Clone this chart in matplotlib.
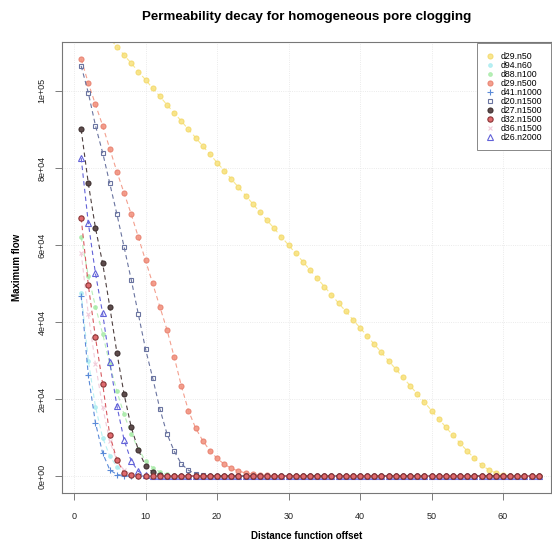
import matplotlib
matplotlib.use("Agg")
import matplotlib.pyplot as plt
import numpy as np

plt.rcParams['font.family'] = ['Liberation Sans', 'DejaVu Sans']

offsets = list(range(1, 66))

names = ["d29.n50", "d94.n60", "d88.n100", "d29.n500", "d41.n1000",
         "d20.n1500", "d27.n1500", "d32.n1500", "d36.n1500", "d26.n2000"]

# values in thousands of flow units
d29_n50 = [122.2, 120.1, 117.9, 115.8, 113.6, 111.5, 109.3, 107.2, 105.0, 102.9,
           100.7, 98.6, 96.4, 94.3, 92.2, 90.0, 87.9, 85.7, 83.6, 81.4,
           79.3, 77.1, 75.0, 72.8, 70.7, 68.5, 66.4, 64.3, 62.1, 60.0,
           57.8, 55.7, 53.5, 51.4, 49.2, 47.1, 44.9, 42.8, 40.6, 38.5,
           36.4, 34.2, 32.1, 29.9, 27.8, 25.6, 23.5, 21.3, 19.2, 17.0,
           14.9, 12.7, 10.6, 8.5, 6.5, 4.6, 2.9, 1.6, 0.8, 0.3,
           0.1, 0, 0, 0, 0]
d94_n60 = [47.5, 30.0, 18.0, 10.0, 5.2, 2.4, 1.0, 0.4, 0.1, 0,
           0, 0, 0, 0, 0, 0, 0, 0, 0, 0,
           0, 0, 0, 0, 0, 0, 0, 0, 0, 0,
           0, 0, 0, 0, 0, 0, 0, 0, 0, 0,
           0, 0, 0, 0, 0, 0, 0, 0, 0, 0,
           0, 0, 0, 0, 0, 0, 0, 0, 0, 0,
           0, 0, 0, 0, 0]
d88_n100 = [62.0, 52.0, 44.0, 37.0, 29.0, 22.0, 16.0, 11.0, 7.0, 4.0,
            2.2, 1.1, 0.5, 0.2, 0.05, 0, 0, 0, 0, 0,
            0, 0, 0, 0, 0, 0, 0, 0, 0, 0,
            0, 0, 0, 0, 0, 0, 0, 0, 0, 0,
            0, 0, 0, 0, 0, 0, 0, 0, 0, 0,
            0, 0, 0, 0, 0, 0, 0, 0, 0, 0,
            0, 0, 0, 0, 0]
d29_n500 = [108.3, 102.0, 96.5, 91.0, 85.0, 79.0, 73.5, 68.0, 62.0, 56.0,
            50.0, 44.0, 38.0, 31.0, 23.5, 17.0, 12.5, 9.2, 6.6, 4.6,
            3.1, 2.0, 1.3, 0.8, 0.5, 0.3, 0.2, 0.1, 0, 0,
            0, 0, 0, 0, 0, 0, 0, 0, 0, 0,
            0, 0, 0, 0, 0, 0, 0, 0, 0, 0,
            0, 0, 0, 0, 0, 0, 0, 0, 0, 0,
            0, 0, 0, 0, 0]
d41_n1000 = [46.8, 26.2, 13.8, 6.0, 1.6, 0.4, 0.1, 0, 0, 0,
             0, 0, 0, 0, 0, 0, 0, 0, 0, 0,
             0, 0, 0, 0, 0, 0, 0, 0, 0, 0,
             0, 0, 0, 0, 0, 0, 0, 0, 0, 0,
             0, 0, 0, 0, 0, 0, 0, 0, 0, 0,
             0, 0, 0, 0, 0, 0, 0, 0, 0, 0,
             0, 0, 0, 0, 0]
d20_n1500 = [106.5, 99.5, 91.0, 84.0, 76.0, 68.0, 59.5, 51.0, 42.0, 33.0,
             25.5, 17.5, 11.0, 6.5, 3.2, 1.5, 0.6, 0.2, 0.05, 0,
             0, 0, 0, 0, 0, 0, 0, 0, 0, 0,
             0, 0, 0, 0, 0, 0, 0, 0, 0, 0,
             0, 0, 0, 0, 0, 0, 0, 0, 0, 0,
             0, 0, 0, 0, 0, 0, 0, 0, 0, 0,
             0, 0, 0, 0, 0]
d27_n1500 = [90.0, 76.0, 64.4, 55.3, 44.0, 32.0, 21.3, 12.7, 6.8, 2.6,
             1.0, 0.3, 0.1, 0, 0, 0, 0, 0, 0, 0,
             0, 0, 0, 0, 0, 0, 0, 0, 0, 0,
             0, 0, 0, 0, 0, 0, 0, 0, 0, 0,
             0, 0, 0, 0, 0, 0, 0, 0, 0, 0,
             0, 0, 0, 0, 0, 0, 0, 0, 0, 0,
             0, 0, 0, 0, 0]
d32_n1500 = [67.0, 49.6, 36.0, 24.0, 10.6, 4.2, 0.8, 0.2, 0.05, 0,
             0, 0, 0, 0, 0, 0, 0, 0, 0, 0,
             0, 0, 0, 0, 0, 0, 0, 0, 0, 0,
             0, 0, 0, 0, 0, 0, 0, 0, 0, 0,
             0, 0, 0, 0, 0, 0, 0, 0, 0, 0,
             0, 0, 0, 0, 0, 0, 0, 0, 0, 0,
             0, 0, 0, 0, 0]
d36_n1500 = [58.0, 42.0, 29.0, 18.0, 9.0, 4.0, 1.5, 0.5, 0.1, 0,
             0, 0, 0, 0, 0, 0, 0, 0, 0, 0,
             0, 0, 0, 0, 0, 0, 0, 0, 0, 0,
             0, 0, 0, 0, 0, 0, 0, 0, 0, 0,
             0, 0, 0, 0, 0, 0, 0, 0, 0, 0,
             0, 0, 0, 0, 0, 0, 0, 0, 0, 0,
             0, 0, 0, 0, 0]
d26_n2000 = [82.6, 65.7, 52.6, 42.3, 29.6, 18.2, 9.4, 3.9, 1.2, 0.3,
             0.05, 0, 0, 0, 0, 0, 0, 0, 0, 0,
             0, 0, 0, 0, 0, 0, 0, 0, 0, 0,
             0, 0, 0, 0, 0, 0, 0, 0, 0, 0,
             0, 0, 0, 0, 0, 0, 0, 0, 0, 0,
             0, 0, 0, 0, 0, 0, 0, 0, 0, 0,
             0, 0, 0, 0, 0]

series = [d29_n50, d94_n60, d88_n100, d29_n500, d41_n1000,
          d20_n1500, d27_n1500, d32_n1500, d36_n1500, d26_n2000]

x_ticks = [0, 10, 20, 30, 40, 50, 60]
y_ticks = [0, 20000, 40000, 60000, 80000, 100000]
y_tick_labels = ["0e+00", "2e+04", "4e+04", "6e+04", "8e+04", "1e+05"]

styles = [
    dict(color="#F7E37A", marker="o", mfc="#F8E27C", mec="#F3D86A", ms=3.6, alpha=0.85, z=2),
    dict(color="#A8ECF0", marker="o", mfc="#A8ECF0", mec="#A8ECF0", ms=2.6, alpha=0.8, z=2),
    dict(color="#A6EBA6", marker="o", mfc="#A6EBA6", mec="#A6EBA6", ms=2.6, alpha=0.8, z=2),
    dict(color="#F29582", marker="o", mfc="#F29582", mec="#E8806E", ms=3.6, alpha=0.9, z=3),
    dict(color="#5A8AD8", marker="+", mfc="none", mec="#5A8AD8", ms=4.5, alpha=1.0, z=4),
    dict(color="#6A74A0", marker="s", mfc="none", mec="#6A74A0", ms=3.2, alpha=1.0, z=4),
    dict(color="#4E4040", marker="o", mfc="#5E4C4C", mec="#3E3030", ms=3.6, alpha=1.0, z=6),
    dict(color="#D85A60", marker="o", mfc="#E06A6E", mec="#8A3434", ms=3.8, alpha=1.0, z=7),
    dict(color="#F2CCDA", marker="x", mfc="none", mec="#F2CCDA", ms=3.2, alpha=1.0, z=2),
    dict(color="#6262D8", marker="^", mfc="none", mec="#6262D8", ms=3.8, alpha=1.0, z=5),
]

fig = plt.figure(figsize=(5.52, 5.50), dpi=100)
ax = fig.add_axes([62/552, 57/550, (551-62)/552, (493-42)/550])

for name, vals, st in zip(names, series, styles):
    yv = [v * 1000 for v in vals]
    ax.plot(offsets, yv, color=st["color"], linestyle=(0, (4, 3)), linewidth=0.8,
            marker=st["marker"], markersize=st["ms"], markerfacecolor=st["mfc"],
            markeredgecolor=st["mec"], markeredgewidth=0.8, alpha=st["alpha"],
            zorder=st["z"], label=name)

x_lo = -1.68
x_hi = (551 - 74) / 7.15
ax.set_xlim(x_lo, x_hi)
ax.set_ylim(-4400, 112700)

ax.set_xticks(x_ticks)
ax.set_xticklabels([str(t) for t in x_ticks], fontsize=6.5)
ax.set_yticks(y_ticks)
ax.set_yticklabels(y_tick_labels, fontsize=6.5, rotation=90, va="center")
ax.tick_params(axis="x", direction="out", length=5, width=0.6, colors="#666666",
               labelcolor="#222222", pad=9)
ax.tick_params(axis="y", direction="out", length=5, width=0.6, colors="#666666",
               labelcolor="#222222", pad=6)

ax.grid(True, color="#E4E4E4", linewidth=0.6, linestyle=":")
ax.set_axisbelow(True)
for sp in ax.spines.values():
    sp.set_color("#777777")
    sp.set_linewidth(0.8)

ax.set_xlabel("Distance function offset", fontsize=7, fontweight="bold", labelpad=7)
ax.set_ylabel("Maximum flow", fontsize=7, fontweight="bold", labelpad=11)
ax.set_title("Permeability decay for homogeneous pore clogging", fontsize=9.6,
             fontweight="bold", pad=16)

leg = ax.legend(loc="upper right", fontsize=6.3, frameon=True, fancybox=False,
                borderaxespad=0.0, handlelength=1.0, handletextpad=0.8,
                labelspacing=0.0, borderpad=0.95, framealpha=1.0,
                bbox_to_anchor=(1.0, 0.997))
leg.get_frame().set_edgecolor("#888888")
leg.get_frame().set_linewidth(0.7)
for h in leg.legend_handles:
    h.set_linestyle("none")

fig.savefig("out.png", dpi=100)
